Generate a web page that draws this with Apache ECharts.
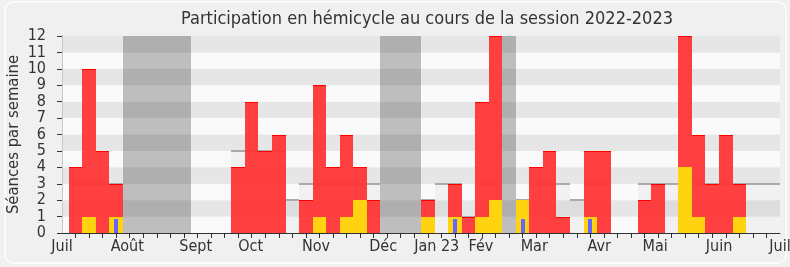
<!DOCTYPE html>
<html><head><meta charset="utf-8">
<script src="https://cdn.jsdelivr.net/npm/echarts@6/dist/echarts.min.js"></script>
<style>html,body{margin:0;padding:0;background:#f0f0f0}#c{width:790px;height:267px}</style>
</head><body><div id="c"></div>
<script>
// ---- data ----
const weeks = [];
for (let i = 1; i <= 52; i++) weeks.push(i);
const presence = [4,10,5,3, 0,0,0,0,0, 0,0,0, 4,8,5,6, 0,2,9,4,6,4,2, 0,0,0, 2,0,3,1,8,12, 0, 2,4,5,1,0,5,5,0,0,2,3,0,12,6,3,6,3,0,0];
const interventions = [0,1,0,1, 0,0,0,0,0, 0,0,0, 0,0,0,0, 0,0,1,0,1,2,0, 0,0,0, 1,0,1,0,1,2, 0, 2,0,0,0,0,1,0,0,0,0,0,0,4,1,0,0,1,0,0];
const questions = [0,0,0,0.85, 0,0,0,0,0, 0,0,0, 0,0,0,0, 0,0,0,0,0,0,0, 0,0,0, 0,0,0.85,0,0,0, 0, 0.85,0,0,0,0,0.85,0,0,0,0,0,0,0,0,0,0,0,0,0];
const medianWeeks = [];
for (let i = 1; i <= 53; i++) medianWeeks.push(i);
const median = [3,3,3,3, 0,0,0,0,0, 0,0,0, 5,5,5,5, 2,3,3,3,3,3,3, 0,0,0, 2,3,3,1,3,3, 0, 2,3,3,3,2,3,3,0,0,3,3,3,3,3,3,3,3,3,3,3];
const vacStart = [5, 24, 33];
const vacEnd = [9, 26, 33];
const monthLabels = ['Juil','Août','Sept','Oct','Nov','Déc','Jan 23','Fév','Mar','Avr','Mai','Juin','Juil'];
const monthPos = [0, 4.82, 9.87, 13.93, 18.75, 23.71, 27.66, 30.92, 34.86, 39.65, 43.79, 48.5, 53];
const yTicks = [0,1,2,3,4,5,6,7,8,9,10,11,12];

const FONT = '"DejaVu Sans Condensed", "DejaVu Sans", sans-serif';
const chart = echarts.init(document.getElementById('c'), null, {renderer: 'canvas'});

function barRect(api, k, v, fill, edge, px) {
  const p0 = api.coord([k - 0.5, 0]);
  const p1 = api.coord([k + 0.5, v]);
  let x0 = Math.round(p0[0]), x1 = Math.round(p1[0]);
  if (px) { const c = (p0[0] + p1[0]) / 2; x0 = Math.round(c - px / 2); x1 = x0 + px; }
  const y0 = Math.round(p0[1]), y1 = Math.round(p1[1]);
  const children = [{type: 'rect', shape: {x: x0, y: y1, width: x1 - x0, height: y0 - y1}, style: {fill: fill}}];
  if (edge) children.push({type: 'line', shape: {x1: x0, y1: y1 + 0.5, x2: x1, y2: y1 + 0.5}, style: {stroke: edge, lineWidth: 1}});
  return {type: 'group', children: children};
}

const option = {
  backgroundColor: '#f0f0f0',
  animation: false,
  textStyle: {fontFamily: FONT},
  graphic: [
    {type: 'rect', z: -100, silent: true, shape: {x: 5, y: 2, width: 781, height: 261, r: 8},
     style: {fill: '#f0f0f0', stroke: '#fbfbfb', lineWidth: 2}},
    {type: 'text', x: 427, y: 19, style: {text: 'Participation en hémicycle au cours de la session 2022-2023',
      font: '18px ' + FONT, fill: '#333', textAlign: 'center', textVerticalAlign: 'middle'}}
  ],
  grid: {left: 62, right: 10, top: 36, bottom: 34, show: false, outerBoundsMode: 'none', containLabel: false},
  xAxis: [
    {type: 'value', min: 0, max: 53, position: 'bottom', z: 5,
     axisLine: {show: true, lineStyle: {color: '#333', width: 1}},
     axisTick: {show: true, customValues: weeks, length: 5, lineStyle: {color: '#333'}},
     axisLabel: {customValues: monthPos, showMinLabel: true, showMaxLabel: true, hideOverlap: false,
       fontFamily: FONT, fontSize: 16, color: '#333', margin: 6,
       formatter: function (v) { const i = monthPos.findIndex(p => Math.abs(p - v) < 1e-6); return i >= 0 ? monthLabels[i] : ''; }},
     splitLine: {show: false}},
    {type: 'value', min: 0, max: 53, position: 'top', z: 5,
     axisLine: {show: false},
     axisTick: {show: true, inside: true, customValues: weeks, length: 2, lineStyle: {color: '#222'}},
     axisLabel: {show: false}, splitLine: {show: false}}
  ],
  yAxis: [
    {type: 'value', min: 0, max: 12, interval: 1,
     name: 'Séances par semaine', nameLocation: 'middle', nameGap: 40, nameMoveOverlap: false,
     nameTextStyle: {fontFamily: FONT, fontSize: 16.5, color: '#333'},
     axisLine: {show: true, lineStyle: {color: '#333'}},
     axisTick: {show: true, length: 5, lineStyle: {color: '#333'}},
     axisLabel: {fontFamily: FONT, fontSize: 16, color: '#333', margin: 16,
       customValues: yTicks},
     splitLine: {show: false},
     splitArea: {show: true, areaStyle: {color: ['#fafafa', '#e6e6e6']}}},
    {type: 'value', min: 0, max: 12, interval: 1, position: 'right',
     axisLine: {show: true, lineStyle: {color: '#c8c8c8'}},
     axisTick: {show: false}, axisLabel: {show: false}, splitLine: {show: false}}
  ],
  series: [
    {type: 'custom', name: 'médiane', clip: true, z: 2,
     data: medianWeeks.map((k, i) => [k, median[i]]),
     renderItem: function (params, api) {
       const k = api.value(0), v = api.value(1);
       if (!v) return;
       const p0 = api.coord([k - 0.5, 0]), p1 = api.coord([k + 0.5, v]);
       const x0 = Math.round(p0[0]), x1 = Math.round(p1[0]), y0 = Math.round(p0[1]), y1 = Math.round(p1[1]);
       return {type: 'group', children: [
         {type: 'rect', shape: {x: x0, y: y1, width: x1 - x0, height: y0 - y1}, style: {fill: 'rgba(0,0,0,0.035)'}},
         {type: 'line', shape: {x1: x0, y1: y1, x2: x1, y2: y1}, style: {stroke: '#aaaaaa', lineWidth: 2}}
       ]};
     }},
    {type: 'custom', name: 'vacances', clip: true, z: 3,
     data: vacStart.map((s, i) => [s, vacEnd[i]]),
     renderItem: function (params, api) {
       const s = api.value(0), e = api.value(1);
       const p0 = api.coord([s - 0.5, 0]), p1 = api.coord([e + 0.5, 12]);
       const x0 = Math.round(p0[0]), x1 = Math.round(p1[0]);
       return {type: 'rect', shape: {x: x0, y: p1[1], width: x1 - x0, height: p0[1] - p1[1]}, style: {fill: 'rgba(0,0,0,0.24)'}};
     }},
    {type: 'custom', name: 'présence', clip: true, z: 4,
     data: weeks.map((k, i) => [k, presence[i]]),
     renderItem: function (params, api) {
       const k = api.value(0), v = api.value(1); if (!v) return;
       return barRect(api, k, v, 'rgba(255,52,52,0.94)', '#ff0000');
     }},
    {type: 'custom', name: 'interventions', clip: true, z: 5,
     data: weeks.map((k, i) => [k, interventions[i]]),
     renderItem: function (params, api) {
       const k = api.value(0), v = api.value(1); if (!v) return;
       return barRect(api, k, v, '#ffd30f', null);
     }},
    {type: 'custom', name: 'questions', clip: true, z: 6,
     data: weeks.map((k, i) => [k, questions[i]]),
     renderItem: function (params, api) {
       const k = api.value(0), v = api.value(1); if (!v) return;
       return barRect(api, k, v, '#6666ff', null, 4);
     }}
  ]
};
chart.setOption(option);
</script></body></html>
